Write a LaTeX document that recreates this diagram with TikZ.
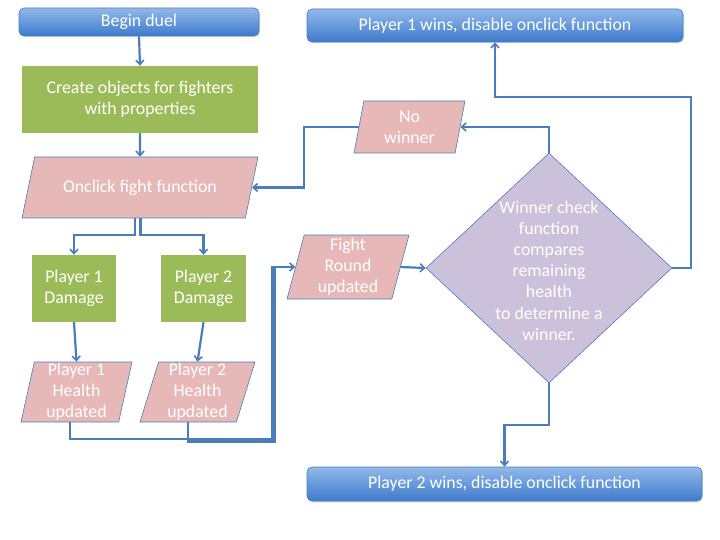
\documentclass[tikz,border=0pt]{standalone}
\usepackage{fontspec}
\setmainfont{Carlito}
\usetikzlibrary{shapes.geometric,arrows.meta,calc,shadows}
\definecolor{lineblue}{HTML}{4A7EBB}
\definecolor{gfill}{HTML}{9BBB59}
\definecolor{pfill}{HTML}{E6B9B8}
\definecolor{vfill}{HTML}{CCC1DA}
\definecolor{btop}{HTML}{92B9EA}
\definecolor{bbot}{HTML}{3D7ACB}
\definecolor{bborder}{HTML}{4A7EBB}
\tikzset{
  txt/.style={text=white,font=\fontsize{17.8}{21}\selectfont,align=center,inner sep=0pt},
  termbox/.style={txt,rectangle,rounded corners=5pt,draw=bborder,line width=0.6pt,
    top color=btop,bottom color=bbot,drop shadow={opacity=0.25,shadow xshift=1pt,shadow yshift=-1.5pt}},
  procbox/.style={txt,rectangle,fill=gfill},
  iobox/.style={txt,trapezium,trapezium stretches body=true,fill=pfill,draw=lineblue,line width=0.6pt},
  decbox/.style={diamond,fill=vfill,draw=lineblue,line width=0.6pt,inner sep=0pt},
  conn/.style={draw=lineblue,line width=2.2pt},
  arr/.style={conn,-{Straight Barb[length=4.5pt,width=8pt,line width=1.6pt]}},
}
\begin{document}
\begin{tikzpicture}[x=1pt,y=-1pt]
\useasboundingbox (0,0) rectangle (720,540);
% nodes
\node[termbox,minimum width=240,minimum height=28] (begin) at (139,22) {Begin duel};
\node[procbox,minimum width=236,minimum height=67] (create) at (140,99.5) {Create objects for fighters\\with properties};
\node[iobox,inner ysep=22pt,minimum width=236,minimum height=61,trapezium left angle=78,trapezium right angle=102] (onclick) at (140,187.5) {Onclick fight function};
\node[procbox,minimum width=84,minimum height=67] (p1dmg) at (74,288.5) {Player 1\\Damage};
\node[procbox,minimum width=85,minimum height=67] (p2dmg) at (203.5,288.5) {Player 2\\Damage};
\node[iobox,minimum width=111,minimum height=60,trapezium left angle=76.9,trapezium right angle=103.1] (p1h) at (76.5,392) {Player 1\\Health\\updated};
\node[iobox,minimum width=115,minimum height=60,trapezium left angle=72,trapezium right angle=108] (p2h) at (197.5,392) {Player 2\\Health\\updated};
\node[iobox,inner ysep=2pt,minimum width=122,minimum height=64,trapezium left angle=74.3,trapezium right angle=105.7] (fr) at (348,267) {Fight\\Round\\updated};
\node[iobox,inner ysep=7pt,minimum width=111,minimum height=52,trapezium left angle=78,trapezium right angle=102] (nowin) at (409.5,127) {No\\winner};
\node[decbox,minimum width=246,minimum height=230] (dia) at (549,268) {};
\node[txt,font=\fontsize{17.8}{21.2}\selectfont] (diatext) at (549,270.5) {Winner check\\function\\compares\\remaining\\health\\to determine a\\winner.};
\node[termbox,minimum width=376,minimum height=33] (p1win) at (495,25.5) {Player 1 wins, disable onclick function};
\node[termbox,minimum width=395,minimum height=34] (p2win) at (504.5,484) {Player 2 wins, disable onclick function};
% helper coordinates
\coordinate (p1hb) at ($(p1h.bottom left corner)!0.5!(p1h.bottom right corner)$);
\coordinate (p2hb) at ($(p2h.bottom left corner)!0.5!(p2h.bottom right corner)$);
\coordinate (jn) at (272,439);
\coordinate (jn2) at (274.5,441.5);
% connectors
\draw[arr] (begin.south) -- (create.north);
\draw[arr] (create.south) -- (onclick.north);
\draw[arr] ([xshift=-5pt]onclick.south) -- ++(0,17) -| (p1dmg.north);
\draw[arr] ([xshift=0.5pt]onclick.south) -- ++(0,17) -| (p2dmg.north);
\draw[arr] (p1dmg.south) -- (p1h.north);
\draw[arr] (p2dmg.south) -- (p2h.north);
\draw[conn] (p2hb) |- (jn2) -- (jn2 |- fr.west);
\draw[arr] (p1hb) |- (jn) |- (fr.west);
\draw[arr] (fr.east) -- (dia.west);
\draw[arr] (dia.north) |- (nowin.east);
\draw[arr] (nowin.west) -- ++(-55,0) |- (onclick.east);
\draw[arr] (dia.east) -- ++(19,0) |- ($(p1win.south)+(0,55)$) -- (p1win.south);
\draw[arr] (dia.south) -- ++(0,42) -| (p2win.north);
\end{tikzpicture}
\end{document}
